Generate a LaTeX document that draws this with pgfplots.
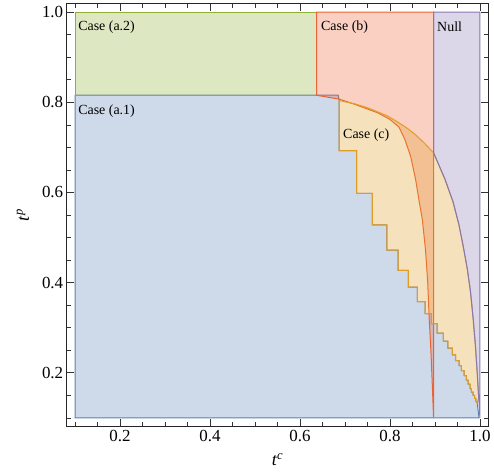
\documentclass[border=0pt]{standalone}
\usepackage{fontspec}
\setmainfont{Liberation Serif}
\usepackage{pgfplots}
\pgfplotsset{compat=1.18}
\definecolor{mblue}{rgb}{0.368417,0.506779,0.709798}
\definecolor{morange}{rgb}{0.880722,0.611041,0.142051}
\definecolor{mgreen}{rgb}{0.560181,0.691569,0.194885}
\definecolor{mred}{rgb}{0.922526,0.385626,0.209179}
\definecolor{mpurple}{rgb}{0.528488,0.470624,0.701351}
\begin{document}
\begin{tikzpicture}
\begin{axis}[name=ax, scale only axis, width=421bp, height=422bp,
  xmin=0.082, xmax=1.018, ymin=0.082, ymax=1.018,
  xtick={0.2,0.4,0.6,0.8,1.0}, xticklabels={0.2,0.4,0.6,0.8,1.0},
  ytick={0.2,0.4,0.6,0.8,1.0}, yticklabels={0.2,0.4,0.6,0.8,1.0},
  minor xtick={0.1,0.15,0.25,0.3,0.35,0.45,0.5,0.55,0.65,0.7,0.75,0.85,0.9,0.95},
  minor ytick={0.1,0.15,0.25,0.3,0.35,0.45,0.5,0.55,0.65,0.7,0.75,0.85,0.9,0.95},
  tick align=inside, major tick length=7bp, minor tick length=4bp,
  tick style={black!80, line width=0.6bp},
  axis line style={black!85, line width=1bp},
  ticklabel style={font=\rmfamily\fontsize{17}{17}\selectfont, text=black},
  xlabel={\textit{t}\textsuperscript{\textit{c}}},
  ylabel={\textit{t}\textsuperscript{\textit{p}}},
  label style={font=\rmfamily\fontsize{18}{18}\selectfont},
  xlabel style={at={(rel axis cs:0.5,0)}, anchor=center, yshift=-34bp},
  ylabel style={at={(rel axis cs:0,0.5)}, anchor=center, rotate=0, yshift=44bp},
  line width=1bp,
]
% Case (a.1)
\addplot[draw=mblue, fill=mblue, fill opacity=0.3] coordinates {
(0.1,0.1) (0.1,0.8156) (0.685,0.8156) (0.687,0.804)
(0.687,0.693) (0.726,0.693) (0.726,0.598) (0.761,0.598) (0.761,0.528) (0.793,0.528)
(0.793,0.472) (0.818,0.472) (0.818,0.427) (0.841,0.427) (0.841,0.390) (0.861,0.390)
(0.861,0.358) (0.878,0.358) (0.878,0.331) (0.892,0.331) (0.892,0.309) (0.905,0.309)
(0.905,0.288) (0.919,0.288) (0.919,0.270) (0.929,0.270) (0.929,0.255) (0.939,0.255)
(0.939,0.240) (0.946,0.240) (0.946,0.227) (0.954,0.227) (0.954,0.216) (0.959,0.216)
(0.959,0.205) (0.965,0.205) (0.965,0.194) (0.970,0.194) (0.970,0.184) (0.974,0.184)
(0.974,0.175) (0.978,0.175) (0.978,0.165) (0.981,0.165) (0.981,0.157) (0.985,0.157)
(0.985,0.150) (0.988,0.150) (0.988,0.143) (0.991,0.143) (0.991,0.137) (0.994,0.133)
(0.998,0.1)
} -- cycle;
% Case (a.2)
\addplot[draw=mgreen, fill=mgreen, fill opacity=0.3] coordinates {
(0.1,0.8156) (0.1,1.0) (0.637,1.0) (0.637,0.8156)
} -- cycle;
% Case (b)
\addplot[draw=mred, fill=mred, fill opacity=0.3] coordinates {
(0.637,0.8156) (0.637,1.0) (0.897,1.0) (0.897,0.1)
(0.894,0.177) (0.891,0.25) (0.887,0.325) (0.884,0.40) (0.879,0.473) (0.872,0.54)
(0.865,0.58) (0.857,0.629) (0.846,0.68) (0.833,0.718) (0.82,0.745) (0.80,0.762)
(0.772,0.777) (0.72,0.796) (0.687,0.807)
} -- cycle;
% Case (c)
\addplot[draw=morange, fill=morange, fill opacity=0.3] coordinates {
(0.687,0.804)
(0.687,0.693) (0.726,0.693) (0.726,0.598) (0.761,0.598) (0.761,0.528) (0.793,0.528)
(0.793,0.472) (0.818,0.472) (0.818,0.427) (0.841,0.427) (0.841,0.390) (0.861,0.390)
(0.861,0.358) (0.878,0.358) (0.878,0.331) (0.892,0.331) (0.892,0.309) (0.905,0.309)
(0.905,0.288) (0.919,0.288) (0.919,0.270) (0.929,0.270) (0.929,0.255) (0.939,0.255)
(0.939,0.240) (0.946,0.240) (0.946,0.227) (0.954,0.227) (0.954,0.216) (0.959,0.216)
(0.959,0.205) (0.965,0.205) (0.965,0.194) (0.970,0.194) (0.970,0.184) (0.974,0.184)
(0.974,0.175) (0.978,0.175) (0.978,0.165) (0.981,0.165) (0.981,0.157) (0.985,0.157)
(0.985,0.150) (0.988,0.150) (0.988,0.143) (0.991,0.143) (0.991,0.137) (0.994,0.133)
(0.9972,0.145) (0.994,0.20) (0.990,0.26) (0.985,0.32) (0.979,0.38) (0.972,0.43)
(0.963,0.48) (0.953,0.53) (0.94,0.58) (0.922,0.63) (0.897,0.688)
(0.876,0.710) (0.858,0.727) (0.839,0.742) (0.816,0.757) (0.794,0.770) (0.772,0.779)
(0.75,0.788) (0.72,0.797) (0.70,0.801)
} -- cycle;
% Null
\addplot[draw=mpurple, fill=mpurple, fill opacity=0.3] coordinates {
(0.897,0.688) (0.897,1.0) (1.0,1.0) (1.0,0.1)
(0.997,0.15) (0.994,0.20) (0.990,0.26) (0.985,0.32) (0.979,0.38) (0.972,0.43)
(0.963,0.48) (0.953,0.53) (0.94,0.58) (0.922,0.63)
} -- cycle;
\node[anchor=west, inner sep=0pt, font=\fontsize{14}{14}\selectfont] at (axis cs:0.106,0.967) {Case (a.2)};
\node[anchor=west, inner sep=0pt, font=\fontsize{14}{14}\selectfont] at (axis cs:0.106,0.780) {Case (a.1)};
\node[anchor=west, inner sep=0pt, font=\fontsize{14}{14}\selectfont] at (axis cs:0.646,0.967) {Case (b)};
\node[anchor=west, inner sep=0pt, font=\fontsize{14}{14}\selectfont] at (axis cs:0.904,0.967) {Null};
\node[anchor=west, inner sep=0pt, font=\fontsize{14}{14}\selectfont] at (axis cs:0.695,0.727) {Case (c)};
\end{axis}
\pgfresetboundingbox
\path[use as bounding box] ([shift={(-67bp,-50bp)}]ax.south west) rectangle ([shift={(6bp,4bp)}]ax.north east);
\end{tikzpicture}
\end{document}
